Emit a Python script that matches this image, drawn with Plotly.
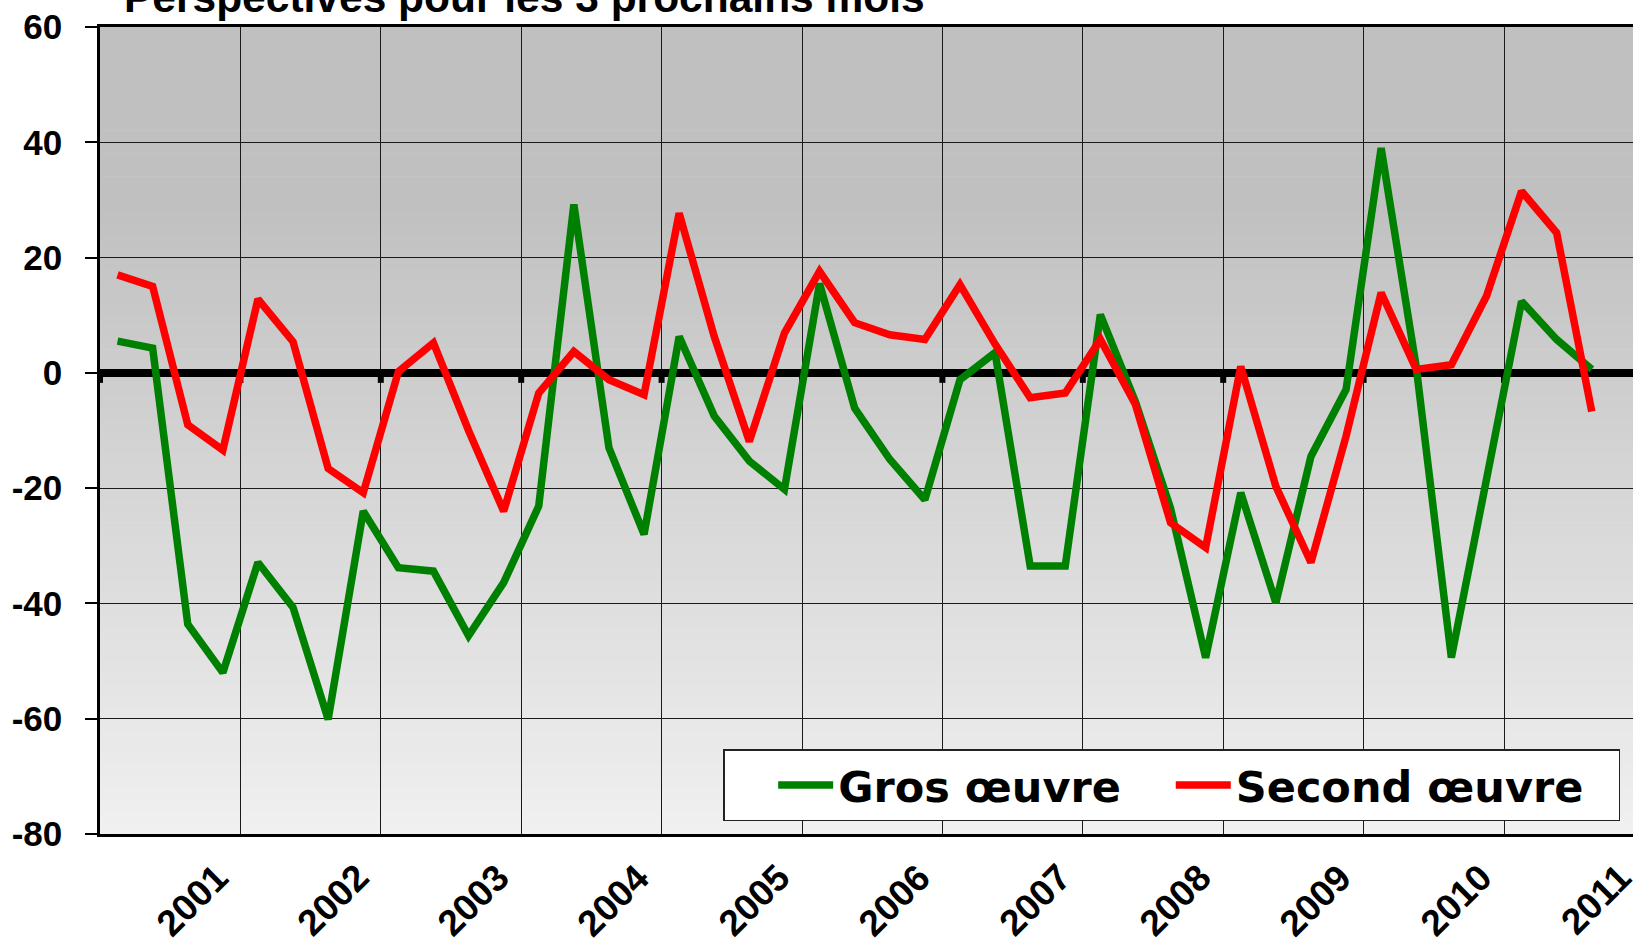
import plotly.graph_objects as go

# ---- data (quarterly balances of opinion) ----
years = ["2001", "2002", "2003", "2004", "2005", "2006", "2007", "2008", "2009", "2010", "2011"]
gros_oeuvre = [5.5, 4.3, -43.6, -52, -32.9, -40.7, -60.1, -24, -33.8, -34.4, -45.6, -36.4,
               -23.1, 29.2, -13, -28, 6.3, -7.5, -15.3, -20.2, 15.5, -6.1, -15, -22,
               -1.2, 3.5, -33.5, -33.5, 10.1, -5, -23.5, -49.4, -20.8, -39.9, -14.5, -2.9,
               39, 1, -49.4, -18, 12.4, 5.8, 0.6]
second_oeuvre = [17, 15, -9, -13.4, 12.8, 5.4, -16.6, -20.8, 0.2, 5.2, -10, -24,
                 -3.5, 3.7, -1.2, -3.8, 27.7, 6.3, -11.9, 6.9, 17.6, 8.7, 6.6, 5.8,
                 15.3, 5, -4.3, -3.5, 5.8, -5.5, -26, -30.3, 1.1, -19.7, -32.9, -11,
                 13.9, 0.6, 1.4, 13.3, 31.5, 24.3, -6.7]
y_ticks = [-80, -60, -40, -20, 0, 20, 40, 60]
y_ticktext = ["-80", "-60", "-40", "-20", "0", "20", "40", "60"]
series_names = ["Gros œuvre", "Second œuvre"]
title_text = "Perspectives pour les 3 prochains mois"

# ---- layout geometry ----
W, H = 1633, 945
ML, MT, MB, MR = 100, 27, 111, 0
PX_PER_Q = 35.1
n = len(gros_oeuvre)
xq = [i + 0.5 for i in range(n)]
x_max = (W - ML - MR) / PX_PER_Q
ymin, ymax = y_ticks[0], y_ticks[-1]
NBSP = "\u00a0"

fig = go.Figure()
fig.add_trace(go.Scatter(x=xq, y=gros_oeuvre, mode="lines", name=series_names[0] + NBSP * 3,
                         line=dict(color="#008000", width=7.5)))
fig.add_trace(go.Scatter(x=xq, y=second_oeuvre, mode="lines", name=series_names[1] + NBSP * 2,
                         line=dict(color="#ff0000", width=7.5)))

# background vertical gradient (style only)
shapes = []
steps = 70
for k in range(steps):
    y0 = ymin + (ymax - ymin) * k / steps
    y1 = ymin + (ymax - ymin) * (k + 1) / steps
    mid = (y0 + y1) / 2
    t = min(max((mid - ymin) / (30 - ymin), 0), 1)
    c = round(240 - t * (240 - 192))
    shapes.append(dict(type="rect", xref="paper", yref="y", x0=0, x1=1, y0=y0, y1=min(y1 + 0.1, ymax),
                       fillcolor=f"rgb({c},{c},{c})", line=dict(width=0), layer="below"))

year_ticks = [4 * (k + 1) for k in range(len(years))]

# small tick marks on the zero line at each year boundary
for g in [0] + [v for v in year_ticks if v < x_max]:
    shapes.append(dict(type="rect", xref="x", yref="y", xsizemode="pixel", ysizemode="pixel",
                       xanchor=g, yanchor=0, x0=-3, x1=3, y0=-10, y1=0,
                       fillcolor="black", line=dict(width=0), layer="between"))

annotations = []
for k, yr in enumerate(years):
    annotations.append(dict(x=year_ticks[k] - 2, xref="x", y=0, yref="paper", text=yr,
                            textangle=-45, xanchor="center", yanchor="top", showarrow=False,
                            xshift=22, yshift=-20,
                            font=dict(family="Liberation Sans", size=37, color="black", weight="bold")))
annotations.append(dict(x=(122 - ML) / (W - ML - MR), xref="paper", y=1, yref="paper", text=title_text,
                        xanchor="left", yanchor="bottom", showarrow=False, yshift=4,
                        font=dict(family="Liberation Sans", size=42.5, color="black", weight="bold")))

fig.update_layout(
    width=W, height=H,
    margin=dict(l=ML, r=MR, t=MT, b=MB, pad=0),
    paper_bgcolor="white", plot_bgcolor="rgba(0,0,0,0)",
    shapes=shapes, annotations=annotations,
    showlegend=True,
    legend=dict(orientation="h", x=(723 - ML) / (W - ML - MR), xanchor="left",
                y=(H - MB - 749) / (H - MT - MB), yanchor="top",
                bgcolor="white", bordercolor="#222", borderwidth=1.5,
                font=dict(family="DejaVu Sans", size=43, color="black", weight="bold"),
                title=dict(text=NBSP * 3, side="left",
                           font=dict(family="DejaVu Sans", size=37, color="black", weight="bold")),
                itemwidth=55),
    xaxis=dict(range=[0, x_max], tickvals=[v for v in year_ticks if v < x_max], showticklabels=False,
               ticks="", showgrid=True, gridcolor="#1a1a1a", gridwidth=1.4,
               showline=True, linecolor="black", linewidth=2.5, mirror=True, zeroline=False),
    yaxis=dict(range=[ymin, ymax], tickvals=y_ticks, ticktext=y_ticktext, ticks="outside",
               ticklen=12, tickwidth=1.5,
               tickcolor="black", showgrid=True, gridcolor="#1a1a1a", gridwidth=1.4,
               showline=True, linecolor="black", linewidth=2.5,
               zeroline=True, zerolinecolor="black", zerolinewidth=7.5,
               ticklabelstandoff=16,
               tickfont=dict(family="Liberation Sans", size=35, color="black", weight="bold")),
)

fig.write_html("out.html", config={"displayModeBar": False},
               post_script="document.body.style.margin='0';document.body.style.overflow='hidden';")
